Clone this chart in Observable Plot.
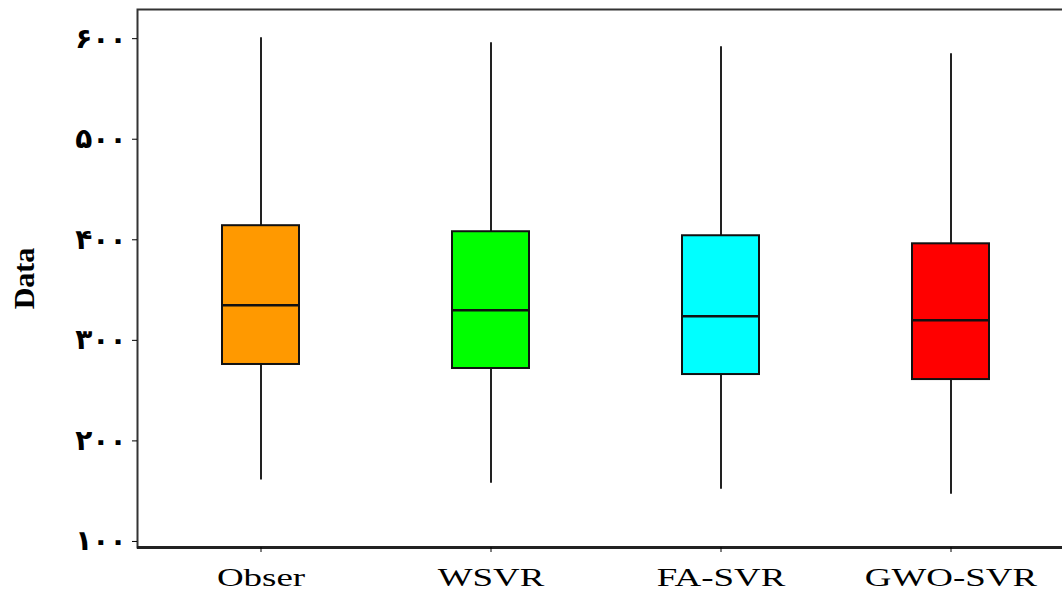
<!DOCTYPE html>
<html>
<head>
<meta charset="utf-8">
<script src="https://cdn.jsdelivr.net/npm/d3@7"></script>
<script src="https://cdn.jsdelivr.net/npm/@observablehq/plot@0.6"></script>
<style>
  html, body { margin: 0; padding: 0; background: #fff; overflow: hidden; }
  #chart { width: 1062px; height: 595px; overflow: hidden; }
  #chart svg { max-width: none !important; }
</style>
</head>
<body>
<div id="chart"></div>
<script>
const categories = ["Obser", "WSVR", "FA-SVR", "GWO-SVR"];
const whiskerLow = [161, 158, 152, 147];
const q1 = [276, 272, 266, 261];
const median = [335, 330, 324, 320];
const q3 = [414, 408, 404, 396];
const whiskerHigh = [601, 596, 592, 585];
const colors = ["#FF9900", "#00FF00", "#00FFFF", "#FF0000"];
const yTicks = [100, 200, 300, 400, 500, 600];
const yTickLabels = ["۱۰۰", "۲۰۰", "۳۰۰", "۴۰۰", "۵۰۰", "۶۰۰"];
const yLabel = "Data";

const data = categories.map((c, i) => ({
  cat: c, lo: whiskerLow[i], q1: q1[i], med: median[i], q3: q3[i], hi: whiskerHigh[i], color: colors[i]
}));

const chart = Plot.plot({
  width: 1074,
  height: 595,
  marginLeft: 137,
  marginRight: 0,
  marginTop: 9,
  marginBottom: 48,
  style: { background: "white", color: "black", maxWidth: "none" },
  x: { domain: categories, paddingInner: 0.665, paddingOuter: 0.364, label: null },
  y: { domain: [94, 629], label: null },
  color: { type: "identity" },
  marks: [
    Plot.ruleX(data, { x: "cat", y1: "lo", y2: "hi", stroke: "#222", strokeWidth: 2 }),
    Plot.barY(data, { x: "cat", y1: "q1", y2: "q3", fill: "color", stroke: "#111", strokeWidth: 2 }),
    Plot.tickY(data, { x: "cat", y: "med", stroke: "#111", strokeWidth: 2.5 }),
    Plot.frame({ stroke: "#333", strokeWidth: 2 }),
    Plot.ruleY([94], { stroke: "#222", strokeWidth: 3 }),
    Plot.axisY({
      ticks: yTicks,
      tickFormat: (d) => yTickLabels[yTicks.indexOf(d)],
      tickSize: 5, tickPadding: 6,
      fontSize: 28, fontWeight: "bold", fontFamily: "DejaVu Sans",
      label: null
    }),
    Plot.axisX({
      tickSize: 5, tickPadding: 15,
      fontSize: 26, fontFamily: "Liberation Serif",
      label: null
    }),
    Plot.text([yLabel], {
      text: (d) => d, frameAnchor: "left", textAnchor: "middle", dx: -113, rotate: -90,
      fontSize: 30, fontWeight: "bold", fontFamily: "Liberation Serif", fill: "black"
    })
  ]
});

chart.style.maxWidth = "none";
chart.style.width = "1074px";
chart.style.height = "595px";
document.getElementById("chart").append(chart);

chart.querySelectorAll('g[aria-label="x-axis tick label"] text').forEach((t) => {
  const w = t.getComputedTextLength();
  t.setAttribute("textLength", (w * 1.42).toFixed(1));
  t.setAttribute("lengthAdjust", "spacingAndGlyphs");
});
</script>
</body>
</html>
